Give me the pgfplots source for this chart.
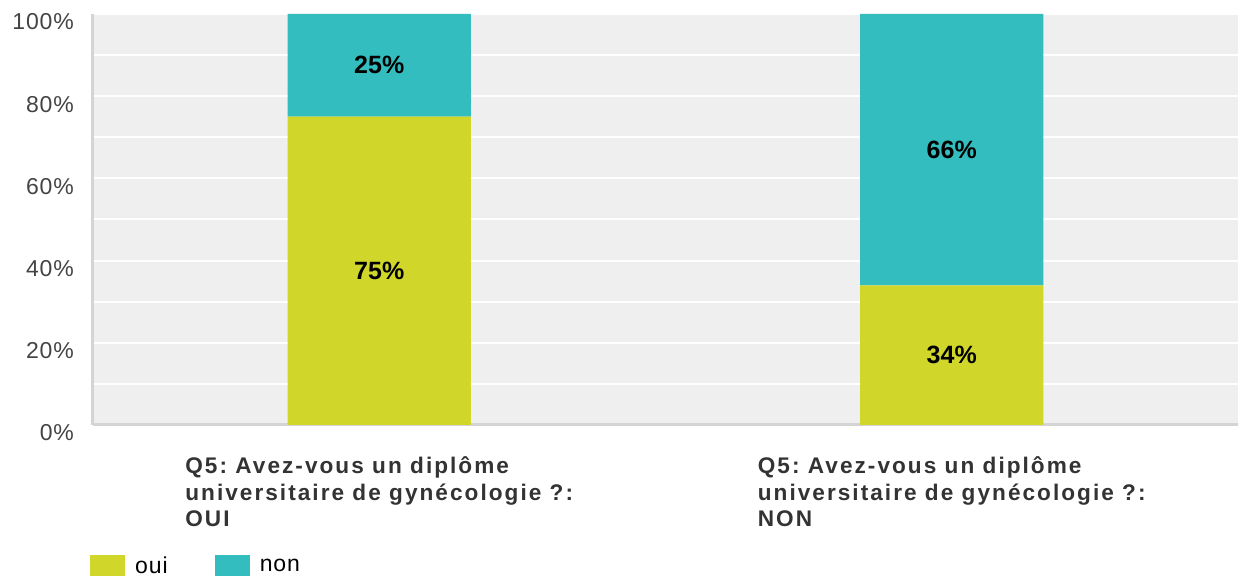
\documentclass[border=0pt]{standalone}
\usepackage{pgfplots}
\pgfplotsset{compat=1.18}
\usepackage{fontspec}
\setmainfont{Liberation Sans}
\newfontfamily\labfont[LetterSpace=9]{Liberation Sans}
\newfontfamily\tickfont[LetterSpace=4]{Liberation Sans}
\frenchspacing
\definecolor{cOui}{HTML}{D0D62A}
\definecolor{cNon}{HTML}{33BDBE}
\definecolor{bgc}{HTML}{EFEFEF}
\definecolor{tickc}{HTML}{444444}
\definecolor{labc}{HTML}{333333}
\definecolor{axc}{HTML}{D4D4D4}
\begin{document}
\begin{tikzpicture}
\begin{axis}[
  at={(0pt,0pt)}, anchor=south west,
  scale only axis, width=572.5pt, height=205.5pt,
  ybar stacked, bar width=0.32,
  xmin=-0.5, xmax=1.5, ymin=0, ymax=100,
  xtick={0,1},
  xticklabels={{Q5: Avez-vous un diplôme\\universitaire de gynécologie ?:\\OUI},
               {Q5: Avez-vous un diplôme\\universitaire de gynécologie ?:\\NON}},
  xticklabel style={align=left, font=\labfont\fontsize{11.3}{13.25}\selectfont\bfseries, text=labc, yshift=-12.5pt},
  ytick={0,20,40,60,80,100},
  minor ytick={10,30,50,70,90},
  yticklabel={\pgfmathprintnumber{\tick}\%},
  yticklabel style={font=\tickfont\fontsize{11.5}{13}\selectfont, text=tickc, yshift=-4pt, xshift=-6pt},
  /pgf/number format/assume math mode=true,
  major tick length=0pt, minor tick length=0pt,
  ymajorgrids, yminorgrids,
  major grid style={draw=white, line width=1pt},
  minor grid style={draw=white, line width=1pt},
  axis background/.style={fill=bgc},
  axis x line*=bottom, axis y line*=left,
  axis line style={-, draw=axc, line width=1.5pt},
  point meta=rawy,
  nodes near coords={\pgfmathprintnumber{\pgfplotspointmeta}\%},
  nodes near coords style={font=\fontsize{12.5}{14}\selectfont\bfseries, text=black, anchor=center},
  legend style={at={(-0.008,-0.301)}, anchor=north west, draw=none, fill=none,
    legend columns=2, font=\tickfont\fontsize{11.5}{13}\selectfont,
    /tikz/every odd column/.append style={column sep=3pt},
    /tikz/every even column/.append style={column sep=21.5pt}},
  legend image code/.code={\fill[#1] (0pt,-8pt) rectangle (17.5pt,6pt);},
]
\addplot[fill=cOui, draw=none] coordinates {(0,75) (1,34)};
\addlegendentry{oui}
\addplot[fill=cNon, draw=none] coordinates {(0,25) (1,66)};
\addlegendentry{non}
\end{axis}
\pgfresetboundingbox
\path[use as bounding box] (-46.5pt,-75.5pt) rectangle (575pt,212.5pt);
\end{tikzpicture}
\end{document}
